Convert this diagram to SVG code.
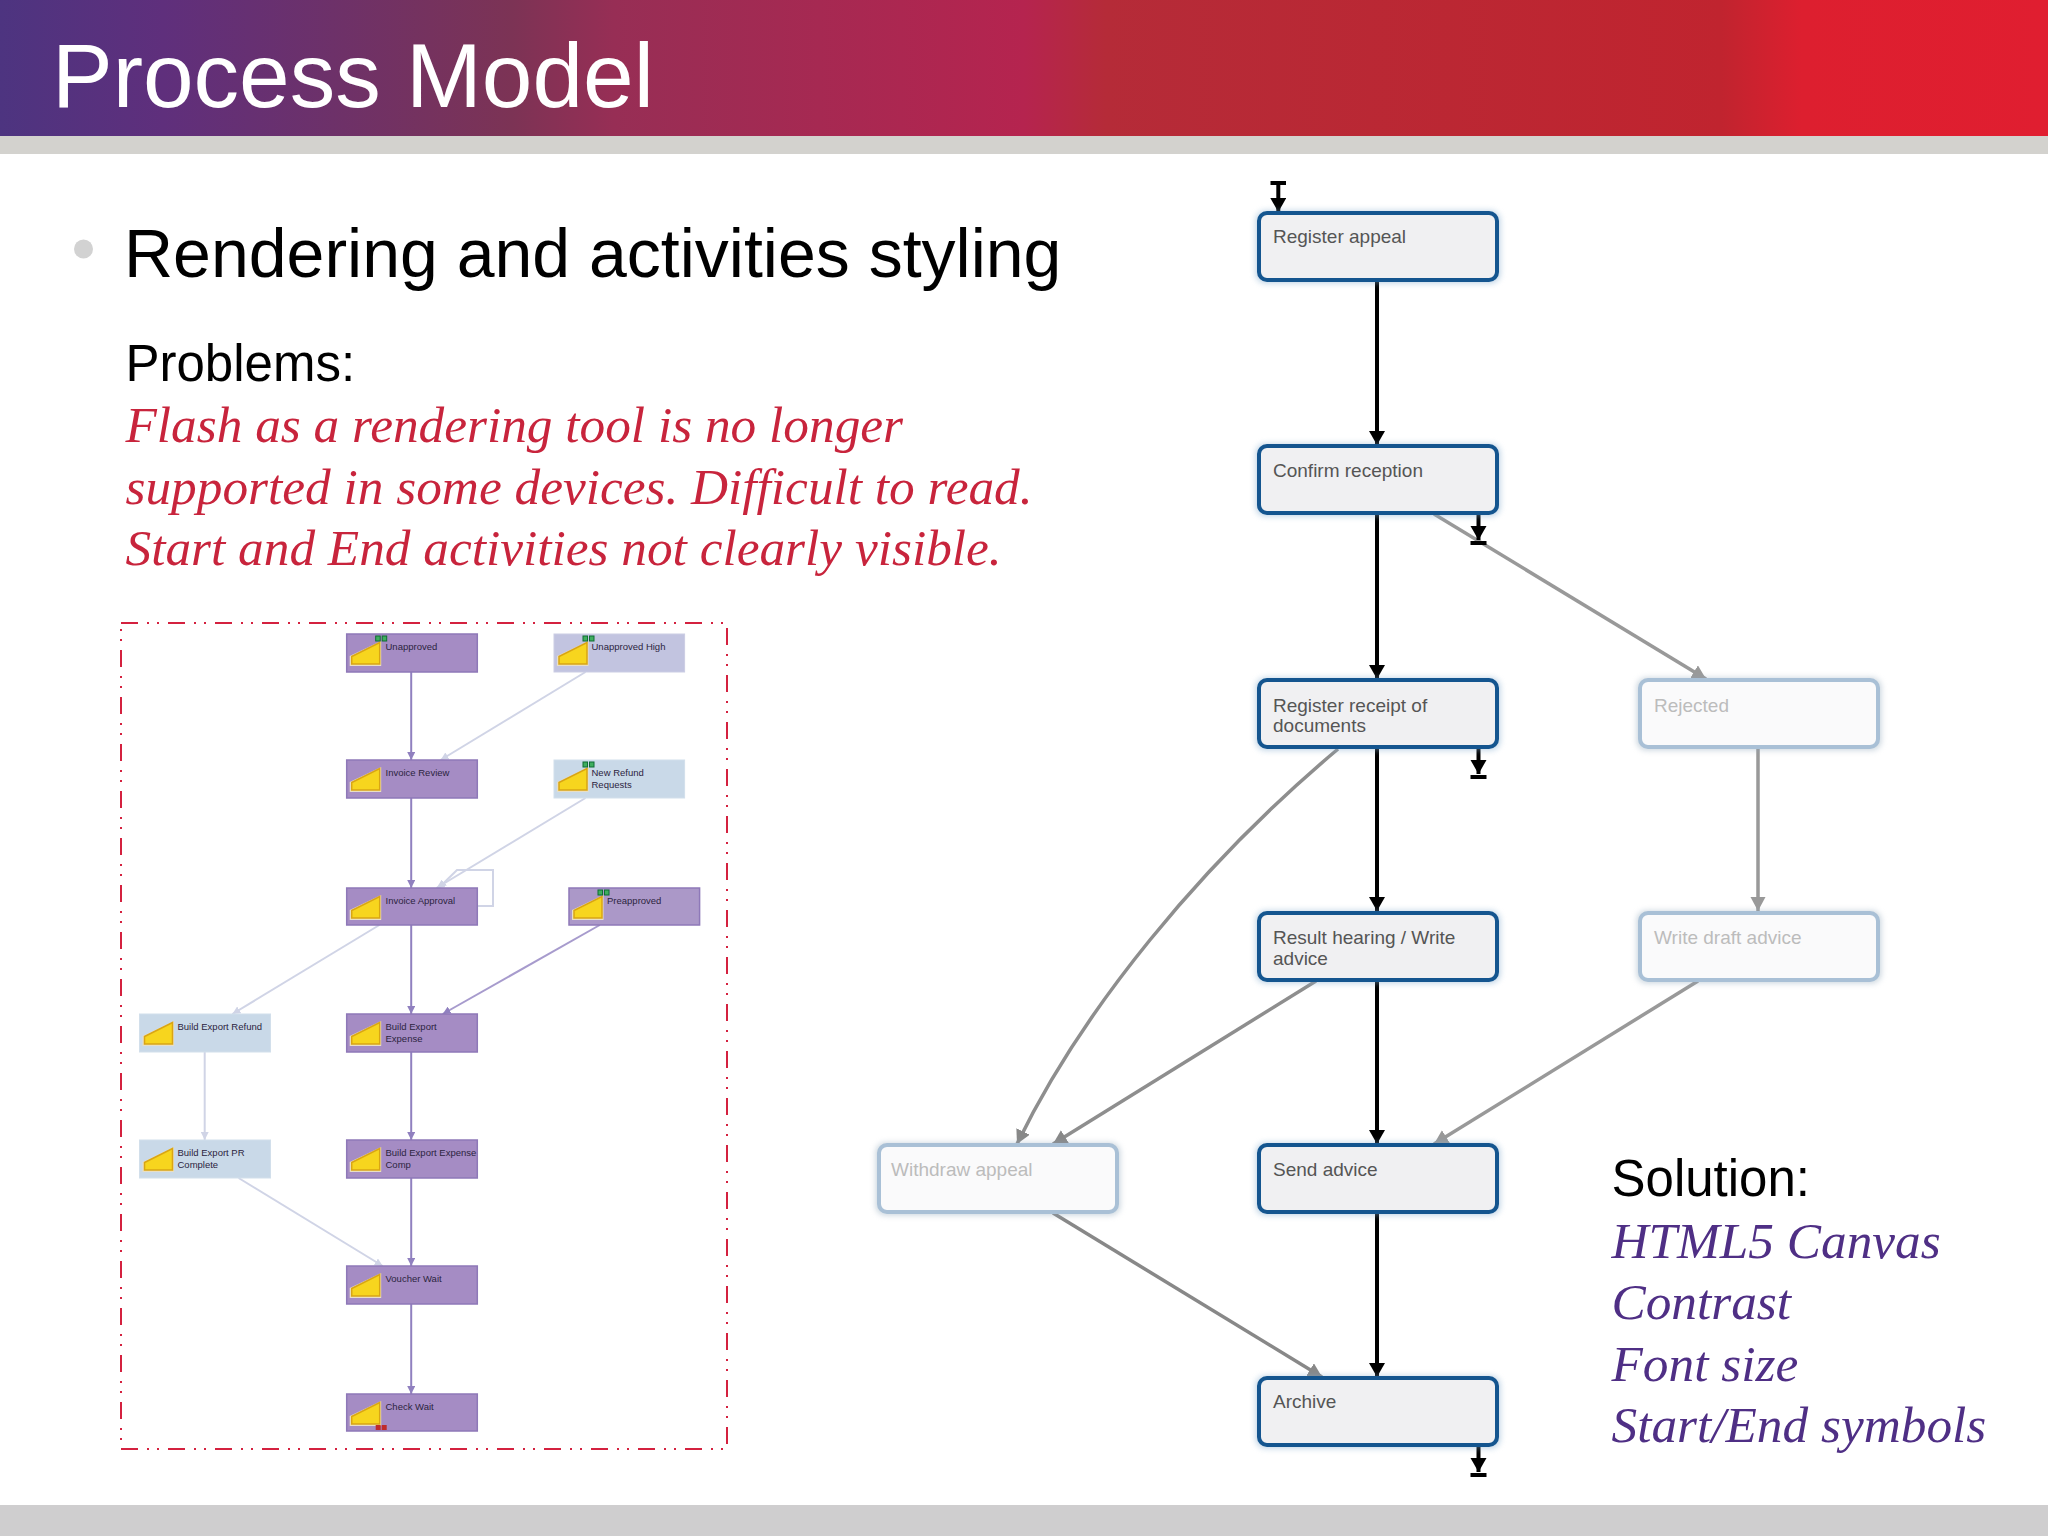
<svg xmlns="http://www.w3.org/2000/svg" xmlns:xlink="http://www.w3.org/1999/xlink" width="2048" height="1536" viewBox="0 0 2048 1536">
<style>
.s{font-family:"Liberation Sans",Arial,sans-serif}
.i{font-family:"Liberation Serif","Times New Roman",serif;font-style:italic}
.prob{font-size:51.3px;fill:#c8243c}
.sol{font-size:51.3px;fill:#4f2f85}
.lab{font-family:"Liberation Sans",Arial,sans-serif;font-size:19px;fill:#555}
.labf{font-family:"Liberation Sans",Arial,sans-serif;font-size:19px;fill:#bcbcbc}
.a{fill:#f0f0f2;stroke:#14558f;stroke-width:4}
.f{fill:#fafafb;stroke:#a9c0d6;stroke-width:4}
.sh{fill:#7fa8cc;opacity:.55;filter:url(#b)}
.shf{fill:#8fa5b8;opacity:.5;filter:url(#b)}
.k{stroke:#000;stroke-width:4;fill:none}
.g{stroke:#999;stroke-width:3.5;fill:none}
.d{stroke:#888;stroke-width:3.5;fill:none}
.tl{font-family:"Liberation Sans",Arial,sans-serif;font-size:9.5px;fill:#2c2440}
.p{fill:#a58cc4;stroke:#8e78b8;stroke-width:1.5}
.l{fill:#c9d9e8;stroke:#d2dfeb;stroke-width:1}
.h{fill:#c2c4e0;stroke:#cbcde4;stroke-width:1}
.m{stroke:#9080bf;stroke-width:2;fill:none}
.c{stroke:#d0d4e6;stroke-width:2;fill:none}
.ico{fill:#f7d51e;stroke:#d9a514;stroke-width:1.5}
.gs{fill:#3fae5e;stroke:#0f6d33;stroke-width:1}
.rs{fill:#c02b2b}
</style>
<defs>
<linearGradient id="hd" x1="0" y1="0" x2="1" y2="0">
<stop offset="0" stop-color="#4d3480"/>
<stop offset=".08" stop-color="#5f2f7c"/>
<stop offset=".25" stop-color="#7c3355"/>
<stop offset=".3" stop-color="#972e55"/>
<stop offset=".5" stop-color="#b5244f"/>
<stop offset=".54" stop-color="#b52b38"/>
<stop offset=".84" stop-color="#c0242f"/>
<stop offset=".88" stop-color="#dd1f2f"/>
<stop offset="1" stop-color="#e01e30"/>
</linearGradient>
<filter id="b" x="-10%" y="-20%" width="120%" height="140%"><feGaussianBlur stdDeviation="3"/></filter>
<marker id="ak" markerUnits="userSpaceOnUse" markerWidth="16" markerHeight="18" refX="14" refY="8" orient="auto"><path d="M0 0L14 8L0 16z" fill="#000"/></marker>
<marker id="ag" markerUnits="userSpaceOnUse" markerWidth="16" markerHeight="16" refX="14" refY="7.5" orient="auto"><path d="M0 0L14 7.5L0 15z" fill="#999"/></marker>
<marker id="ad" markerUnits="userSpaceOnUse" markerWidth="16" markerHeight="16" refX="14" refY="7.5" orient="auto"><path d="M0 0L14 7.5L0 15z" fill="#888"/></marker>
<marker id="am" markerUnits="userSpaceOnUse" markerWidth="9" markerHeight="8" refX="8" refY="4" orient="auto"><path d="M0 0L8 4L0 8z" fill="#9080bf"/></marker>
<marker id="ac" markerUnits="userSpaceOnUse" markerWidth="9" markerHeight="8" refX="8" refY="4" orient="auto"><path d="M0 0L8 4L0 8z" fill="#d0d4e6"/></marker>
<g id="icon"><polygon fill="#e9dfc4" points="3,22 34.5,7 34.5,32 3,32"/><polygon class="ico" points="5,22.5 33,8.5 33,30 5,30"/></g>
<g id="gg"><rect class="gs" x="29" y="2" width="4.5" height="5"/><rect class="gs" x="35.5" y="2" width="4.5" height="5"/></g>
</defs>

<rect width="2048" height="1536" fill="#fff"/>
<rect width="2048" height="136" fill="url(#hd)"/>
<rect y="136" width="2048" height="18" fill="#d3d2ce"/>
<rect y="1505" width="2048" height="31" fill="#cfcecf"/>
<text class="s" x="52" y="107" font-size="91" fill="#fff">Process Model</text>
<circle cx="83.5" cy="249" r="9.5" fill="#d2d2d2"/>
<text class="s" x="124" y="277" font-size="68" fill="#000">Rendering and activities styling</text>
<text class="s" x="125.5" y="381" font-size="51" fill="#000">Problems:</text>
<text class="i prob" x="125.5" y="442">Flash as a rendering tool is no longer</text>
<text class="i prob" x="125.5" y="504">supported in some devices. Difficult to read.</text>
<text class="i prob" x="125.5" y="565">Start and End activities not clearly visible.</text>
<text class="s" x="1611.5" y="1196" font-size="51" fill="#000">Solution:</text>
<text class="i sol" x="1611.5" y="1258">HTML5 Canvas</text>
<text class="i sol" x="1611.5" y="1319">Contrast</text>
<text class="i sol" x="1611.5" y="1381">Font size</text>
<text class="i sol" x="1611.5" y="1442">Start/End symbols</text>

<rect id="frame" x="121" y="623" width="606" height="826" fill="none" stroke="#d4213f" stroke-width="2" stroke-dasharray="17 9 2 8 2 9"/>

<g id="small-connectors">
<path class="m" marker-end="url(#am)" d="M411.2 672V760"/>
<path class="c" marker-end="url(#ac)" d="M585.5 672L440.6 760"/>
<path class="m" marker-end="url(#am)" d="M411.2 798V888"/>
<path class="c" marker-end="url(#ac)" d="M585.5 798L436.5 888"/>
<path class="c" marker-end="url(#ac)" d="M477.3 906H493V870H457L438.6 888"/>
<path class="c" marker-end="url(#ac)" d="M379.4 925L232.4 1014"/>
<path class="m" marker-end="url(#am)" d="M411.2 925V1014"/>
<path class="m" marker-end="url(#am)" d="M599.8 925L442.7 1014" style="stroke:#a79bcd"/>
<path class="c" marker-end="url(#ac)" d="M204.7 1052V1140"/>
<path class="m" marker-end="url(#am)" d="M411.2 1052V1140"/>
<path class="m" marker-end="url(#am)" d="M411.2 1178V1266"/>
<path class="c" marker-end="url(#ac)" d="M238.6 1178L382.7 1266"/>
<path class="m" marker-end="url(#am)" d="M411.2 1304V1394"/>
</g>

<g id="n-unapproved" transform="translate(346.7 634)"><rect class="p" width="130.6" height="38"/><use xlink:href="#icon" href="#icon"/><use xlink:href="#gg" href="#gg"/><text class="tl" x="38.8" y="16">Unapproved</text></g>
<g id="n-unapproved-high" transform="translate(554 634)"><rect class="h" width="130.6" height="38"/><use xlink:href="#icon" href="#icon"/><use xlink:href="#gg" href="#gg"/><text class="tl" x="37.5" y="16">Unapproved High</text></g>
<g id="n-invoice-review" transform="translate(346.7 760)"><rect class="p" width="130.6" height="38"/><use xlink:href="#icon" href="#icon"/><text class="tl" x="38.8" y="16">Invoice Review</text></g>
<g id="n-new-refund" transform="translate(554 760)"><rect class="l" width="130.6" height="38"/><use xlink:href="#icon" href="#icon"/><use xlink:href="#gg" href="#gg"/><text class="tl" x="37.5" y="16">New Refund</text><text class="tl" x="37.5" y="28.3">Requests</text></g>
<g id="n-invoice-approval" transform="translate(346.7 888)"><rect class="p" width="130.6" height="37"/><use xlink:href="#icon" href="#icon"/><text class="tl" x="38.8" y="16">Invoice Approval</text></g>
<g id="n-preapproved" transform="translate(569 888)"><rect class="p" width="130.6" height="37" style="fill:#ab98c8"/><use xlink:href="#icon" href="#icon"/><use xlink:href="#gg" href="#gg"/><text class="tl" x="38" y="16">Preapproved</text></g>
<g id="n-build-export-refund" transform="translate(139.5 1014)"><rect class="l" width="131" height="38"/><use xlink:href="#icon" href="#icon"/><text class="tl" x="38" y="16">Build Export Refund</text></g>
<g id="n-build-export-expense" transform="translate(346.7 1014)"><rect class="p" width="130.6" height="38"/><use xlink:href="#icon" href="#icon"/><text class="tl" x="38.8" y="16">Build Export</text><text class="tl" x="38.8" y="28.3">Expense</text></g>
<g id="n-build-export-pr" transform="translate(139.5 1140)"><rect class="l" width="131" height="38"/><use xlink:href="#icon" href="#icon"/><text class="tl" x="38" y="16">Build Export PR</text><text class="tl" x="38" y="28.3">Complete</text></g>
<g id="n-build-export-comp" transform="translate(346.7 1140)"><rect class="p" width="130.6" height="38"/><use xlink:href="#icon" href="#icon"/><text class="tl" x="38.8" y="16">Build Export Expense</text><text class="tl" x="38.8" y="28.3">Comp</text></g>
<g id="n-voucher-wait" transform="translate(346.7 1266)"><rect class="p" width="130.6" height="38"/><use xlink:href="#icon" href="#icon"/><text class="tl" x="38.8" y="16">Voucher Wait</text></g>
<g id="n-check-wait" transform="translate(346.7 1394)"><rect class="p" width="130.6" height="37"/><use xlink:href="#icon" href="#icon"/><rect class="rs" x="29" y="31" width="5" height="5"/><rect class="rs" x="35" y="31" width="5" height="5"/><text class="tl" x="38.8" y="16">Check Wait</text></g>

<g id="connectors">
<path class="k" marker-end="url(#ak)" d="M1278.3 183V212"/>
<path class="k" d="M1270.5 183H1286"/>
<path class="k" marker-end="url(#ak)" d="M1377 282V445"/>
<path class="g" marker-end="url(#ag)" d="M1434 514L1706 679"/>
<path class="k" marker-end="url(#ak)" d="M1377 515V679"/>
<path class="k" marker-end="url(#ak)" d="M1478.5 515V540"/>
<path class="k" d="M1470.5 543H1486.5"/>
<path class="k" marker-end="url(#ak)" d="M1478.5 749V774"/>
<path class="k" d="M1470.5 777H1486.5"/>
<path class="k" marker-end="url(#ak)" d="M1377 749V911"/>
<path class="g" marker-end="url(#ag)" d="M1758 749V911"/>
<path class="g" style="stroke:#8e8e8e" marker-end="url(#ad)" d="M1338 749C1200 865 1082 1010 1017 1144"/>
<path class="g" style="stroke:#8e8e8e" marker-end="url(#ad)" d="M1316 981L1053 1144"/>
<path class="k" marker-end="url(#ak)" d="M1377 982V1144"/>
<path class="g" marker-end="url(#ag)" d="M1698 981L1434 1144"/>
<path class="d" marker-end="url(#ad)" d="M1053 1213L1322 1377"/>
<path class="k" marker-end="url(#ak)" d="M1377 1214V1377"/>
<path class="k" marker-end="url(#ak)" d="M1478.5 1447V1472"/>
<path class="k" d="M1470.5 1475H1486.5"/>
</g>

<g id="register-appeal"><rect class="sh" x="1256" y="211" width="244" height="72" rx="9"/><rect class="a" x="1259" y="213" width="238" height="67" rx="8"/><text class="lab" x="1273" y="243">Register appeal</text></g>
<g id="confirm-reception"><rect class="sh" x="1256" y="444" width="244" height="72" rx="9"/><rect class="a" x="1259" y="446" width="238" height="67" rx="8"/><text class="lab" x="1273" y="477">Confirm reception</text></g>
<g id="register-receipt"><rect class="sh" x="1256" y="678" width="244" height="72" rx="9"/><rect class="a" x="1259" y="680" width="238" height="67" rx="8"/><text class="lab" x="1273" y="712">Register receipt of</text><text class="lab" x="1273" y="732">documents</text></g>
<g id="result-hearing"><rect class="sh" x="1256" y="911" width="244" height="72" rx="9"/><rect class="a" x="1259" y="913" width="238" height="67" rx="8"/><text class="lab" x="1273" y="944">Result hearing / Write</text><text class="lab" x="1273" y="965">advice</text></g>
<g id="send-advice"><rect class="sh" x="1256" y="1143" width="244" height="72" rx="9"/><rect class="a" x="1259" y="1145" width="238" height="67" rx="8"/><text class="lab" x="1273" y="1176">Send advice</text></g>
<g id="archive"><rect class="sh" x="1256" y="1376" width="244" height="72" rx="9"/><rect class="a" x="1259" y="1378" width="238" height="67" rx="8"/><text class="lab" x="1273" y="1408">Archive</text></g>
<g id="rejected"><rect class="shf" x="1637" y="678" width="244" height="72" rx="9"/><rect class="f" x="1640" y="680" width="238" height="67" rx="8"/><text class="labf" x="1654" y="712">Rejected</text></g>
<g id="write-draft"><rect class="shf" x="1637" y="911" width="244" height="72" rx="9"/><rect class="f" x="1640" y="913" width="238" height="67" rx="8"/><text class="labf" x="1654" y="944">Write draft advice</text></g>
<g id="withdraw"><rect class="shf" x="876" y="1143" width="244" height="72" rx="9"/><rect class="f" x="879" y="1145" width="238" height="67" rx="8"/><text class="labf" x="891" y="1176">Withdraw appeal</text></g>
</svg>
